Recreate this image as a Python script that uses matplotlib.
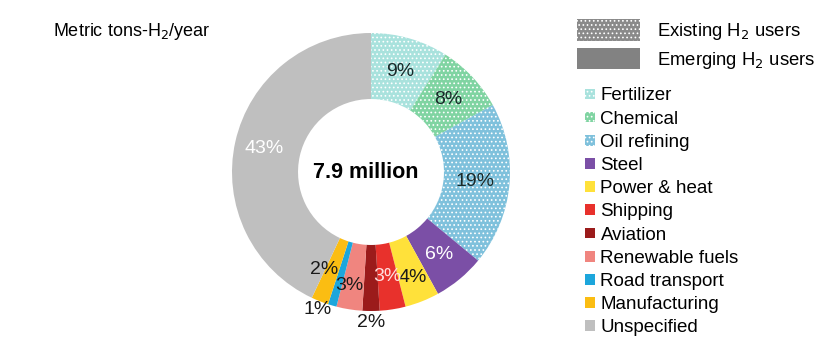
import numpy as np
import matplotlib
matplotlib.use('Agg')
import matplotlib.pyplot as plt
from matplotlib.patches import Patch

plt.rcParams['font.family'] = ['Liberation Sans', 'DejaVu Sans']
plt.rcParams['hatch.linewidth'] = 0.7

categories = ["Fertilizer", "Chemical", "Oil refining", "Steel", "Power & heat",
              "Shipping", "Aviation", "Renewable fuels", "Road transport",
              "Manufacturing", "Unspecified"]
shares = [9, 8, 19, 6, 4, 3, 2, 3, 1, 2, 43]
existing = [True, True, True, False, False, False, False, False, False, False, False]
colors = ["#a9e2dd", "#80d4a2", "#7fc1dc", "#7b4fa6", "#ffe13a", "#e8312c",
          "#9b1b1b", "#f0857f", "#1ca6dc", "#fbbd12", "#bfbfbf"]
label_colors = ["#1a2a2a", "#1a2a2a", "#1a2a2a", "white", "#1a1a1a", "#ffe0e0",
                "#1a1a1a", "#1a1a1a", "#1a1a1a", "#1a1a1a", "white"]
label_radius = [0.75, 0.76, 0.75, 0.77, 0.82, 0.76, 1.08, 0.83, 1.06, 0.78, 0.79]
label_nudge = [0, 0, 0, 0, 0, 0, 0, -2, -5, -4, 0]

W, H = 829, 351
fig = plt.figure(figsize=(W / 100, H / 100), dpi=100)

cx, cy, R = 371, 172, 139
ax = fig.add_axes([(cx - R) / W, (H - cy - R) / H, 2 * R / W, 2 * R / H])
wedges, _ = ax.pie(shares, colors=colors, startangle=90, counterclock=False,
                   wedgeprops=dict(width=0.475, linewidth=0))
for w, ex in zip(wedges, existing):
    if ex:
        w.set_hatch('....')
        w.set_edgecolor('white')
ax.set_xlim(-1, 1)
ax.set_ylim(-1, 1)

cum = np.cumsum([0] + shares[:-1])
for i, s in enumerate(shares):
    ang = np.deg2rad(90 - (cum[i] + s / 2) * 3.6 + label_nudge[i])
    r = label_radius[i]
    ax.text(r * np.cos(ang), r * np.sin(ang), f"{s}%", ha='center', va='center',
            fontsize=14, color=label_colors[i])

ax.text(-0.04, 0, "7.9 million", ha='center', va='center', fontsize=15.5,
        fontweight='bold', color='black')

fig.text(53 / W, 1 - 31 / H, "Metric tons-H$_2$/year", ha='left', va='center',
         fontsize=13)

# type legend
type_handles = [Patch(facecolor="#8a8a8a", edgecolor="white", hatch='....', linewidth=0),
                Patch(facecolor="#828282", linewidth=0)]
leg1 = fig.legend(type_handles, ["Existing H$_2$ users", "Emerging H$_2$ users"],
                  loc='upper left', bbox_to_anchor=(570 / W, 1 - 12 / H),
                  frameon=False, fontsize=13.3, handlelength=3.4, handleheight=1.4,
                  handletextpad=0.9, labelspacing=0.3, borderaxespad=0)

# category legend
cat_handles = []
for c, ex in zip(colors, existing):
    if ex:
        cat_handles.append(Patch(facecolor=c, edgecolor="white", hatch='....', linewidth=0))
    else:
        cat_handles.append(Patch(facecolor=c, linewidth=0))
leg2 = fig.legend(cat_handles, categories, loc='upper left',
                  bbox_to_anchor=(578 / W, 1 - 80 / H), frameon=False, fontsize=13.5,
                  handlelength=0.5, handleheight=0.5, handletextpad=0.3,
                  labelspacing=0.33, borderaxespad=0)

fig.savefig("out.png", dpi=100)
